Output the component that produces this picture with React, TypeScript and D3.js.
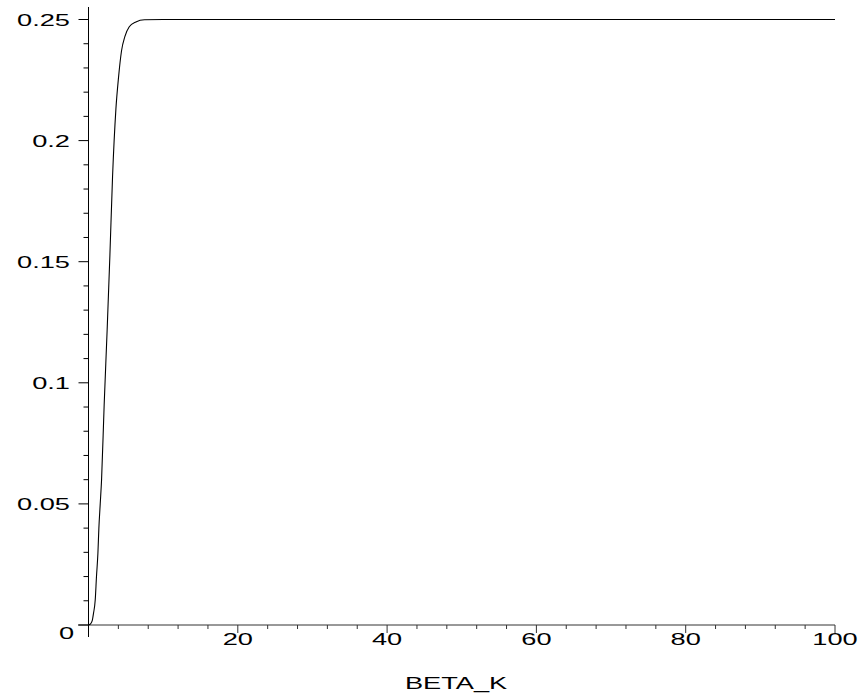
import React from "react";
import * as d3 from "d3";

const betaK = [0, 0.3, 0.5, 0.67, 0.9, 1.07, 1.26, 1.39, 1.57, 1.75, 2.1, 2.5, 2.87, 3.22, 3.67, 4.02, 4.42, 4.88, 5.46, 6.35, 7.5, 10, 20, 40, 60, 80, 100];
const values = [0, 0.0006, 0.0018, 0.0048, 0.0103, 0.02, 0.0296, 0.04, 0.05, 0.06, 0.091, 0.122, 0.153, 0.185, 0.213, 0.226, 0.237, 0.243, 0.247, 0.249, 0.2499, 0.25, 0.25, 0.25, 0.25, 0.25, 0.25];
const xMajorTicks = [20, 40, 60, 80, 100];
const yMajorTicks = [0, 0.05, 0.1, 0.15, 0.2, 0.25];
const yTickLabels = ["0", "0.05", "0.1", "0.15", "0.2", "0.25"];
const xLabel = "BETA_K";

const W = 862;
const H = 700;
const FONT = "'Liberation Sans', Arial, Helvetica, sans-serif";
const FS = 17;
const SX = 1.6;

export default function App() {
  const x = d3.scaleLinear().domain([0, 100]).range([88.5, 835]);
  const y = d3.scaleLinear().domain([0, 0.25]).range([625, 19.5]);

  const line = d3
    .line<number>()
    .x((_, i) => x(betaK[i]))
    .y((d) => y(d))
    .curve(d3.curveMonotoneX);

  const xMinor = d3.range(4, 100, 4).filter((v) => v % 20 !== 0);
  const yMinor = d3.range(1, 25).map((v) => v / 100).filter((v, i) => (i + 1) % 5 !== 0);

  const x0 = x(0);
  const y0 = y(0);

  return (
    <svg
      width={W}
      height={H}
      style={{ position: "absolute", left: 0, top: 0, background: "#fff" }}
    >
      <rect x={0} y={0} width={W} height={H} fill="#fff" />
      {/* x axis */}
      <line x1={78} x2={x(100)} y1={y0} y2={y0} stroke="#333" strokeWidth={1} />
      {xMinor.map((v) => (
        <line key={"xm" + v} x1={x(v)} x2={x(v)} y1={y0} y2={y0 + 4} stroke="#333" strokeWidth={1} />
      ))}
      {xMajorTicks.map((v) => (
        <line key={"xM" + v} x1={x(v)} x2={x(v)} y1={y0} y2={y0 + 8} stroke="#333" strokeWidth={1} />
      ))}
      {xMajorTicks.map((v) => (
        <text
          key={"xl" + v}
          transform={`translate(${x(v)},${645}) scale(${SX},1)`}
          textAnchor="middle"
          fontFamily={FONT}
          fontSize={FS}
          fill="#000"
        >
          {String(v)}
        </text>
      ))}
      {/* y axis */}
      <line x1={x0} x2={x0} y1={7} y2={637} stroke="#000" strokeWidth={1} />
      {yMinor.map((v) => (
        <line key={"ym" + v} x1={x0 - 5} x2={x0} y1={y(v)} y2={y(v)} stroke="#000" strokeWidth={1} />
      ))}
      {yMajorTicks.map((v) => (
        <line key={"yM" + v} x1={x0 - 10} x2={x0} y1={y(v)} y2={y(v)} stroke="#000" strokeWidth={1} />
      ))}
      {yMajorTicks.map((v, i) => (
        <text
          key={"yl" + v}
          transform={
            v === 0
              ? `translate(74,${y(v) + 14}) scale(${SX},1)`
              : `translate(70,${y(v) + 6}) scale(${SX},1)`
          }
          textAnchor="end"
          fontFamily={FONT}
          fontSize={FS}
          fill="#000"
        >
          {yTickLabels[i]}
        </text>
      ))}
      {/* curve */}
      <path d={line(values) || ""} fill="none" stroke="#000" strokeWidth={1.1} />
      {/* axis title */}
      <text
        transform={`translate(456,689) scale(${SX},1)`}
        textAnchor="middle"
        fontFamily={FONT}
        fontSize={FS}
        fill="#000"
      >
        {xLabel}
      </text>
    </svg>
  );
}
